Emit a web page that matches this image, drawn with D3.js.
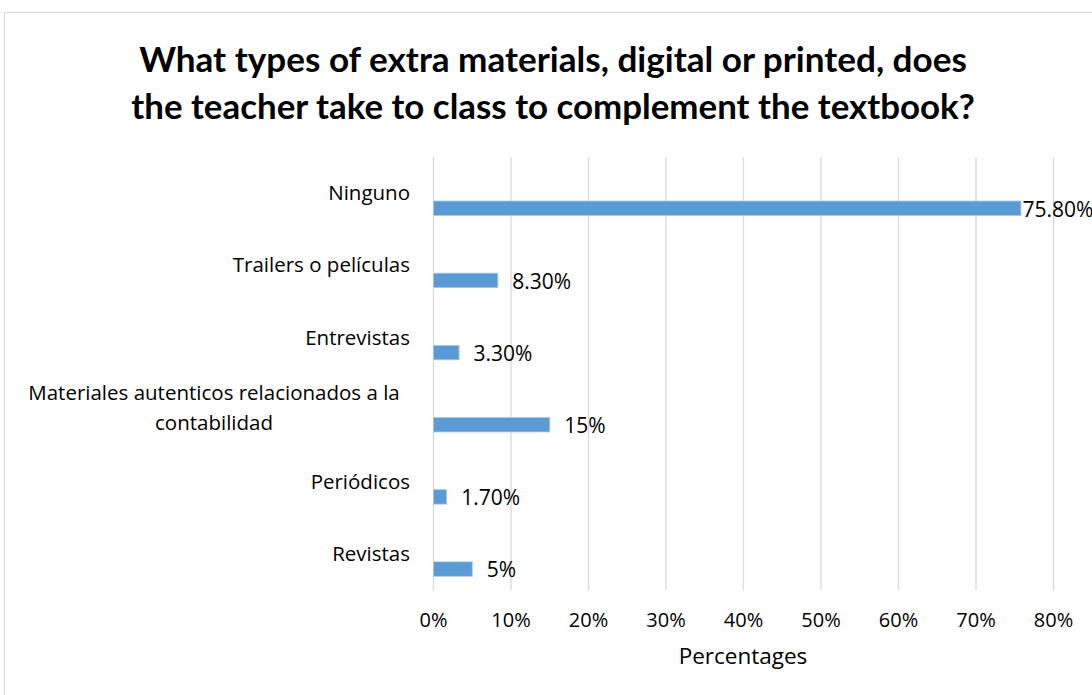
<!doctype html>
<html lang="en">
<head>
<meta charset="utf-8">
<title>Extra materials</title>
<script src="https://cdn.jsdelivr.net/npm/d3@7"></script>
<style>
  body { margin: 0; background: #fff; }
  text { font-family: "Open Sans", Lato, sans-serif; fill: #000; }
</style>
</head>
<body>
<svg width="1092" height="695"></svg>
<script>
// data
var categories = ["Ninguno", "Trailers o películas", "Entrevistas",
  "Materiales autenticos relacionados a la contabilidad", "Periódicos", "Revistas"];
var values = [75.8, 8.3, 3.3, 15, 1.7, 5];
var valueLabels = ["75.80%", "8.30%", "3.30%", "15%", "1.70%", "5%"];
var tickValues = [0, 10, 20, 30, 40, 50, 60, 70, 80];
var titleLines = ["What types of extra materials, digital or printed, does",
  "the teacher take to class to complement the textbook?"];

var W = 1092, H = 695;
var plotL = 433, plotR = 1053, plotT = 157, plotB = 590;

var svg = d3.select("svg");

// chart frame
svg.append("rect").attr("x", 4.5).attr("y", 12.5).attr("width", 1100).attr("height", 700)
  .attr("fill", "#fff").attr("stroke", "#d9d9d9");

// title, squeezed to the widths in the picture
var titleW = [828, 844];
var titleY = [72, 119];
titleLines.forEach(function(t, i) {
  var tx = svg.append("text").attr("x", 553).attr("y", titleY[i])
    .attr("text-anchor", "middle").style("font-family", "Lato, sans-serif")
    .style("font-weight", "bold").style("font-size", "30px").text(t);
  var len = tx.node().getComputedTextLength();
  tx.style("font-size", (30 * titleW[i] / len) + "px");
});

var x = d3.scaleLinear().domain([0, 80]).range([plotL, plotR]);
var y = d3.scaleBand().domain(categories).range([plotT, plotB]);
var step = y.step();

// vertical gridlines
svg.append("g").selectAll("line").data(tickValues).enter().append("line")
  .attr("x1", function(d) { return x(d) + 0.5; })
  .attr("x2", function(d) { return x(d) + 0.5; })
  .attr("y1", plotT).attr("y2", plotB)
  .attr("stroke", "#d9d9d9").attr("stroke-width", 1.3);

// bottom axis labels only
var ax = svg.append("g").attr("transform", "translate(0," + plotB + ")")
  .call(d3.axisBottom(x).tickValues(tickValues).tickSize(0).tickPadding(23)
    .tickFormat(function(d) { return d + "%"; }));
ax.select(".domain").remove();
ax.selectAll("text").style("font-size", "20px").style("fill", "#000")
  .style("font-family", "'Open Sans', sans-serif");

svg.append("text").attr("x", 743).attr("y", 664).attr("text-anchor", "middle")
  .style("font-size", "22.5px").text("Percentages");

// bars
svg.append("g").selectAll("rect").data(values).enter().append("rect")
  .attr("x", x(0) + 0.5)
  .attr("y", function(d, i) { return y(categories[i]) + step * 0.61; })
  .attr("width", function(d) { return x(d) - x(0); })
  .attr("height", step * 0.2)
  .attr("fill", "#5b9bd5").attr("stroke", "#a9c8ea").attr("stroke-width", 0.8);

// value labels (the long one sits right at the bar end, running off the edge)
svg.append("g").selectAll("text").data(values).enter().append("text")
  .attr("y", function(d, i) { return y(categories[i]) + step * 0.71 + 1; })
  .attr("dy", "0.35em")
  .style("font-size", "21px")
  .text(function(d, i) { return valueLabels[i]; })
  .attr("x", function(d) {
    var w = this.getComputedTextLength();
    return x(d) + 15 + w > W ? x(d) + 2 : x(d) + 15;
  });

// category labels
var cat = svg.append("g").selectAll("text").data(categories).enter().append("text")
  .attr("x", 410)
  .attr("y", function(d) { return y(d) + step / 2; })
  .attr("text-anchor", "end")
  .style("font-size", "20.5px");
cat.each(function(d) {
  var t = d3.select(this);
  if (d.length > 30) {
    // wrapped label, centred lines
    var lines = ["Materiales autenticos relacionados a la", "contabilidad"];
    t.attr("text-anchor", "middle").attr("x", 214);
    lines.forEach(function(l, k) {
      t.append("tspan").attr("x", 214).attr("dy", k === 0 ? "-0.45em" : "1.45em").text(l);
    });
  } else {
    t.attr("dy", "0.35em").text(d);
  }
});
</script>
</body>
</html>
